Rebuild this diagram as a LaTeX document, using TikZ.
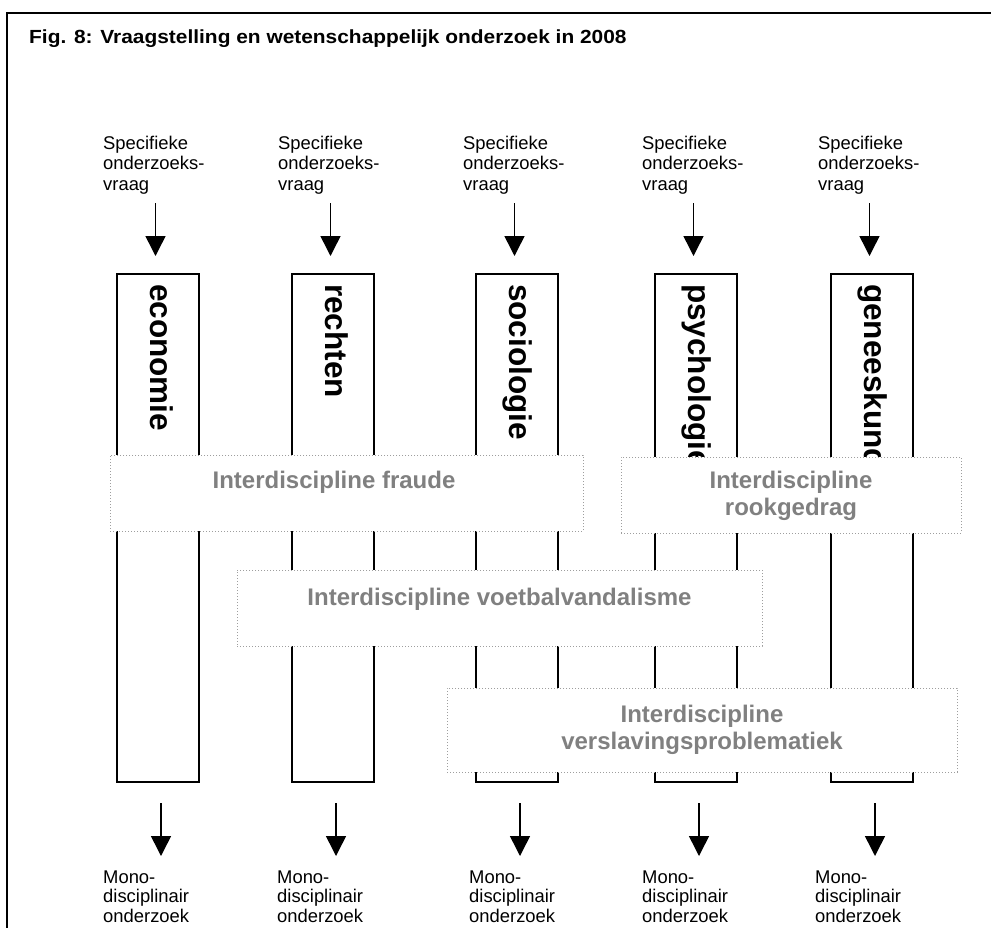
\documentclass[tikz,border=0pt]{standalone}
\usepackage{fontspec}
\setmainfont{Liberation Sans}
\usetikzlibrary{arrows.meta}
\definecolor{intergray}{gray}{0.5}
\definecolor{dotgray}{gray}{0.62}
\begin{document}
\begin{tikzpicture}[x=1pt,y=-1pt,
  colbox/.style={draw, line width=1.5pt, minimum width=82pt, minimum height=508pt, inner sep=0pt, outer sep=0pt, anchor=north west},
  collabel/.style={rotate=-90, anchor=base west, inner sep=0pt, font=\fontsize{31.5}{36}\selectfont\bfseries},
  qtext/.style={anchor=base west, align=left, inner sep=0pt, font=\fontsize{18.4}{20.7}\selectfont},
  mtext/.style={anchor=base west, align=left, inner sep=0pt, font=\fontsize{18.4}{19.5}\selectfont},
  flow/.style={line width=1.5pt, -{Triangle[width=20pt,length=20pt]}},
  interbox/.style={draw=dotgray, dash pattern=on 1pt off 2pt, line width=1pt, fill=white, inner sep=0pt, outer sep=0pt, anchor=north west},
  intertext/.style={anchor=base, align=center, inner sep=0pt, text=intergray, font=\fontsize{24}{27.6}\selectfont\bfseries},
]
\useasboundingbox (0,0) rectangle (991,927);
\clip (0,0) rectangle (991,927);
% outer frame (cut off at right and bottom)
\draw[line width=2pt] (7,960) -- (7,13) -- (1010,13);
% title
\node[anchor=base west, inner sep=0pt, font=\fontsize{19}{22}\selectfont\bfseries] (title) at (29,43) {\scalebox{1.1}[1]{Fig. 8: Vraagstelling en wetenschappelijk onderzoek in 2008}};

% questions (anchor = baseline of last line)
\node[qtext] (q1) at (103,190.5) {Specifieke\\onderzoeks-\\vraag};
\node[qtext] (q2) at (278,190.5) {Specifieke\\onderzoeks-\\vraag};
\node[qtext] (q3) at (463,190.5) {Specifieke\\onderzoeks-\\vraag};
\node[qtext] (q4) at (642,190.5) {Specifieke\\onderzoeks-\\vraag};
\node[qtext] (q5) at (818,190.5) {Specifieke\\onderzoeks-\\vraag};

% columns
\node[colbox] (eco) at (117,274) {};
\node[colbox] (rec) at (292,274) {};
\node[colbox] (soc) at (476,274) {};
\node[colbox] (psy) at (655,274) {};
\node[colbox] (gen) at (831,274) {};
\node[collabel] (ecol) at (150,284) {economie};
\node[collabel] (recl) at (325,284) {rechten};
\node[collabel] (socl) at (509,284) {sociologie};
\node[collabel] (psyl) at (688,284) {psychologie};
\node[collabel] (genl) at (864,284) {geneeskunde};

% top arrows
\coordinate (a1s) at (155.5,203); \coordinate (a1e) at (155.5,256);
\coordinate (a2s) at (330.5,203); \coordinate (a2e) at (330.5,256);
\coordinate (a3s) at (514.5,203); \coordinate (a3e) at (514.5,256);
\coordinate (a4s) at (693.5,203); \coordinate (a4e) at (693.5,256);
\coordinate (a5s) at (869.5,203); \coordinate (a5e) at (869.5,256);
\draw[flow] (a1s) -- (a1e);
\draw[flow] (a2s) -- (a2e);
\draw[flow] (a3s) -- (a3e);
\draw[flow] (a4s) -- (a4e);
\draw[flow] (a5s) -- (a5e);

% interdisciplines
\node[interbox, minimum width=473pt, minimum height=76pt] (fraudebox) at (110,455) {};
\node[intertext] (fraude) at (334,488) {Interdiscipline fraude};
\node[interbox, minimum width=340pt, minimum height=76pt] (rookbox) at (621,457) {};
\node[intertext] (rook) at (791,515.6) {Interdiscipline\\rookgedrag};
\node[interbox, minimum width=525pt, minimum height=76pt] (voetbox) at (237,570) {};
\node[intertext] (voet) at (499.5,605) {Interdiscipline voetbalvandalisme};
\node[interbox, minimum width=510pt, minimum height=84pt] (verbox) at (447,688) {};
\node[intertext] (ver) at (702,749.6) {Interdiscipline\\verslavingsproblematiek};

% bottom arrows
\coordinate (b1s) at (161,803); \coordinate (b1e) at (161,856);
\coordinate (b2s) at (336,803); \coordinate (b2e) at (336,856);
\coordinate (b3s) at (520,803); \coordinate (b3e) at (520,856);
\coordinate (b4s) at (699,803); \coordinate (b4e) at (699,856);
\coordinate (b5s) at (875,803); \coordinate (b5e) at (875,856);
\draw[flow] (b1s) -- (b1e);
\draw[flow] (b2s) -- (b2e);
\draw[flow] (b3s) -- (b3e);
\draw[flow] (b4s) -- (b4e);
\draw[flow] (b5s) -- (b5e);

% outputs (anchor = baseline of last line)
\node[mtext] (m1) at (103,922) {Mono-\\disciplinair\\onderzoek};
\node[mtext] (m2) at (277,922) {Mono-\\disciplinair\\onderzoek};
\node[mtext] (m3) at (469,922) {Mono-\\disciplinair\\onderzoek};
\node[mtext] (m4) at (642,922) {Mono-\\disciplinair\\onderzoek};
\node[mtext] (m5) at (815,922) {Mono-\\disciplinair\\onderzoek};
\end{tikzpicture}
\end{document}
